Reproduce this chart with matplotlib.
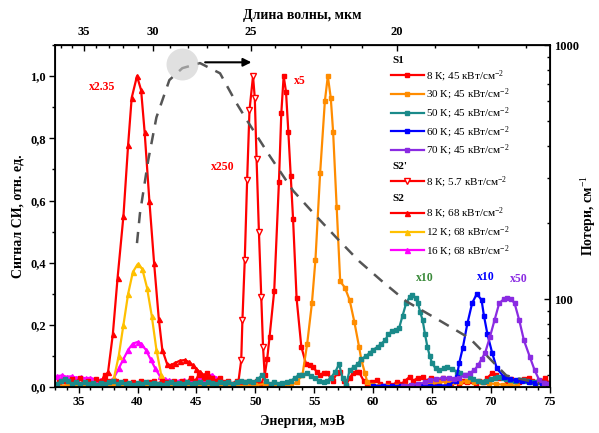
import numpy as np
import matplotlib
matplotlib.use("Agg")
import matplotlib.pyplot as plt
from matplotlib.lines import Line2D
from matplotlib.ticker import MultipleLocator, FixedLocator, FuncFormatter, NullFormatter, LogLocator

plt.rcParams['font.family'] = ['Liberation Serif', 'DejaVu Serif']
plt.rcParams['mathtext.fontset'] = 'custom'
plt.rcParams['mathtext.rm'] = 'Liberation Serif'
plt.rcParams['mathtext.it'] = 'Liberation Serif:italic'
plt.rcParams['mathtext.bf'] = 'Liberation Serif:bold'

# ---- S1, 45 kW/cm2 ----
s1_8k_e = [33.3, 33.7, 34.0, 34.4, 34.8, 35.1, 35.5, 35.8, 36.2, 36.5, 36.9, 37.2, 37.5, 37.9, 38.2, 38.6,
           38.9, 39.3, 39.6, 40.0, 40.3, 40.7, 41.0, 41.4, 41.7, 42.1, 42.4, 42.8, 43.1, 43.5, 43.8, 44.2,
           44.5, 44.9, 45.2, 45.6, 45.9, 46.3, 46.6, 47.0, 47.3, 47.7, 48.0, 48.4, 48.7, 49.1, 49.4, 49.8,
           50.1, 50.5, 50.8, 51.0, 51.2, 51.6, 52.0, 52.2, 52.4, 52.6, 52.8, 53.0, 53.2, 53.5, 53.9, 54.3,
           54.6, 54.9, 55.2, 55.5, 55.8, 56.1, 56.4, 56.6, 56.9, 57.2, 57.5, 57.7, 58.0, 58.3, 58.6, 58.8,
           59.2, 59.5, 59.9, 60.3, 60.6, 61.0, 61.3, 61.7, 62.0, 62.4, 62.7, 63.1, 63.4, 63.8, 64.2, 64.5,
           64.9, 65.2, 65.6, 65.9, 66.2, 66.6, 66.9, 67.3, 67.6, 68.0, 68.3, 68.7, 69.0, 69.4, 69.7, 70.1,
           70.4, 70.7, 71.0, 71.4, 71.7, 72.1, 72.4, 72.8, 73.2, 73.5, 73.9, 74.3, 74.6, 75.0]
s1_8k_y = [0.015, 0.02, 0.01, 0.025, 0.015, 0.03, 0.01, 0.02, 0.01, 0.025, 0.015, 0.04, 0.02, 0.01, 0.02, 0.01,
           0.02, 0.005, 0.015, 0.01, 0.02, 0.01, 0.015, 0.02, 0.01, 0.02, 0.015, 0.005, 0.02, 0.01, 0.02, 0.015,
           0.03, 0.02, 0.04, 0.03, 0.045, 0.03, 0.02, 0.03, 0.015, 0.02, 0.01, 0.02, 0.01, 0.015, 0.005, 0.01,
           0.02, 0.01, 0.04, 0.09, 0.16, 0.31, 0.66, 0.88, 1.0, 0.95, 0.82, 0.68, 0.54, 0.285, 0.13, 0.074,
           0.07, 0.064, 0.05, 0.04, 0.045, 0.044, 0.03, 0.02, 0.045, 0.05, 0.02, 0.005, 0.03, 0.045, 0.05, 0.048,
           0.02, 0.01, 0.015, 0.022, 0.01, 0.005, 0.012, 0.008, 0.016, 0.01, 0.02, 0.033, 0.02, 0.03, 0.033, 0.02,
           0.03, 0.015, 0.02, 0.03, 0.022, 0.012, 0.02, 0.01, 0.02, 0.015, 0.02, 0.01, 0.02, 0.015, 0.03, 0.045,
           0.04, 0.03, 0.033, 0.02, 0.025, 0.02, 0.015, 0.025, 0.03, 0.02, 0.015, 0.02, 0.03, 0.01]

s1_30k_e = [33.2, 34.0, 34.8, 35.6, 36.4, 37.2, 38.0, 38.8, 39.6, 40.4, 41.2, 42.0, 42.8, 43.6, 44.4, 45.2,
            46.0, 46.8, 47.6, 48.4, 49.2, 50.0, 50.8, 51.6, 52.4, 53.0, 53.5, 54.0, 54.4, 54.8, 55.1, 55.5,
            55.9, 56.15, 56.4, 56.6, 56.9, 57.2, 57.6, 58.0, 58.4, 58.8, 59.0, 59.3, 59.5, 59.9, 60.5, 61.2,
            62.0, 62.8, 63.6, 64.4, 65.0, 65.6, 66.2, 66.8, 67.4, 68.0, 68.6, 69.2, 69.8, 70.4, 71.0, 71.6, 72.2]
s1_30k_y = [0.005, 0.004, 0.006, 0.003, 0.005, 0.004, 0.006, 0.003, 0.004, 0.006, 0.003, 0.005, 0.004, 0.003, 0.005, 0.004,
            0.006, 0.004, 0.005, 0.003, 0.004, 0.006, 0.01, 0.012, 0.008, 0.006, 0.015, 0.04, 0.14, 0.27, 0.41, 0.69,
            0.92, 1.0, 0.93, 0.82, 0.58, 0.34, 0.32, 0.28, 0.21, 0.13, 0.087, 0.045, 0.016, 0.006, 0.004, 0.003,
            0.004, 0.003, 0.005, 0.008, 0.012, 0.015, 0.018, 0.015, 0.016, 0.02, 0.018, 0.015, 0.012, 0.01, 0.008, 0.006, 0.005]

s1_50k_e = [33.2, 33.5, 33.8, 34.1, 34.4, 34.8, 35.1, 35.5, 35.8, 36.2, 36.5, 36.9, 37.2, 37.6, 37.9, 38.3,
            38.6, 39.0, 39.3, 39.7, 40.0, 40.4, 40.7, 41.1, 41.4, 41.8, 42.1, 42.5, 42.8, 43.2, 43.5, 43.9,
            44.2, 44.6, 44.9, 45.3, 45.6, 46.0, 46.3, 46.7, 47.0, 47.4, 47.7, 48.1, 48.4, 48.8, 49.1, 49.5,
            49.8, 50.2, 50.6, 50.9, 51.3, 51.6, 52.0, 52.3, 52.7, 53.0, 53.4, 53.7, 54.0, 54.4, 54.7, 55.1,
            55.4, 55.8, 56.1, 56.4, 56.8, 57.1, 57.4, 57.7, 58.0, 58.4, 58.7, 59.0, 59.4, 59.7, 60.0, 60.4,
            60.7, 61.0, 61.3, 61.6, 61.9, 62.2, 62.5, 62.8, 63.1, 63.3, 63.6, 63.8, 64.0, 64.2, 64.4, 64.6,
            64.8, 65.0, 65.3, 65.6, 66.0, 66.3, 66.7, 67.1, 67.4, 67.8, 68.2, 68.5, 68.9, 69.3, 69.6, 70.0,
            70.3, 70.6, 71.0, 71.3, 71.6, 72.0, 72.4, 72.7, 73.1, 73.4, 73.8, 74.1, 74.5, 74.9]
s1_50k_y = [0.01, 0.02, 0.025, 0.02, 0.01, 0.015, 0.01, 0.015, 0.01, 0.012, 0.008, 0.012, 0.01, 0.015, 0.02, 0.01,
            0.015, 0.01, 0.012, 0.008, 0.012, 0.01, 0.015, 0.01, 0.012, 0.01, 0.008, 0.012, 0.015, 0.01, 0.012, 0.01,
            0.015, 0.01, 0.012, 0.015, 0.01, 0.015, 0.012, 0.01, 0.015, 0.012, 0.015, 0.01, 0.015, 0.02, 0.015, 0.02,
            0.015, 0.025, 0.04, 0.02, 0.01, 0.015, 0.01, 0.012, 0.015, 0.02, 0.03, 0.04, 0.04, 0.045, 0.035, 0.03,
            0.02, 0.015, 0.02, 0.03, 0.05, 0.074, 0.03, 0.006, 0.055, 0.064, 0.075, 0.09, 0.1, 0.11, 0.12, 0.13,
            0.14, 0.15, 0.17, 0.18, 0.185, 0.19, 0.23, 0.27, 0.29, 0.296, 0.285, 0.27, 0.24, 0.215, 0.17, 0.13,
            0.1, 0.077, 0.06, 0.055, 0.06, 0.064, 0.058, 0.05, 0.045, 0.04, 0.033, 0.025, 0.02, 0.016, 0.02, 0.025,
            0.03, 0.033, 0.028, 0.025, 0.022, 0.02, 0.022, 0.022, 0.02, 0.018, 0.016, 0.015, 0.012, 0.01]

s1_60k_e = [60.0, 60.8, 61.6, 62.4, 63.2, 64.0, 64.8, 65.6, 66.4, 67.0, 67.1, 67.3, 67.6, 68.0, 68.4, 68.8,
            69.2, 69.4, 69.7, 70.1, 70.5, 71.1, 71.6, 72.1, 72.6, 73.2, 73.7, 74.3, 74.8]
s1_60k_y = [0.004, 0.005, 0.003, 0.005, 0.004, 0.006, 0.004, 0.005, 0.006, 0.02, 0.033, 0.077, 0.125, 0.205, 0.27, 0.30,
            0.28, 0.23, 0.17, 0.11, 0.06, 0.033, 0.025, 0.022, 0.02, 0.016, 0.014, 0.012, 0.01]

s1_70k_e = [62.5, 63.2, 63.8, 64.4, 64.8, 65.3, 65.9, 66.4, 66.9, 67.3, 67.8, 68.2, 68.6, 68.9, 69.2, 69.5,
            69.9, 70.3, 70.7, 71.1, 71.4, 71.7, 72.0, 72.4, 72.8, 73.3, 73.7, 74.1, 74.5, 74.9]
s1_70k_y = [0.004, 0.006, 0.01, 0.015, 0.022, 0.025, 0.03, 0.028, 0.025, 0.03, 0.038, 0.045, 0.055, 0.07, 0.09, 0.11,
            0.16, 0.215, 0.27, 0.283, 0.286, 0.283, 0.27, 0.215, 0.15, 0.097, 0.055, 0.022, 0.012, 0.01]

# ---- S2', 5.7 kW/cm2 ----
s2p_8k_e = [48.5, 48.8, 48.9, 49.1, 49.3, 49.5, 49.8, 49.95, 50.1, 50.3, 50.5, 50.65, 50.85]
s2p_8k_y = [0.0, 0.087, 0.215, 0.41, 0.665, 0.89, 1.0, 0.93, 0.735, 0.5, 0.29, 0.13, 0.0]

# ---- S2, 68 kW/cm2 ----
s2_8k_e = [36.8, 37.2, 37.5, 37.9, 38.3, 38.8, 39.2, 39.5, 39.95, 40.3, 40.6, 41.0, 41.4, 41.8, 42.1, 42.5,
           42.8, 43.2, 43.6, 44.0, 44.4, 44.7, 45.0, 45.3, 45.6, 45.9, 46.4]
s2_8k_y = [0.02, 0.03, 0.05, 0.17, 0.35, 0.55, 0.78, 0.93, 1.0, 0.955, 0.82, 0.6, 0.4, 0.22, 0.12, 0.075,
           0.07, 0.078, 0.085, 0.087, 0.08, 0.07, 0.058, 0.048, 0.04, 0.033, 0.022]

s2_12k_e = [33.2, 34.4, 35.6, 36.8, 37.6, 38.0, 38.4, 38.8, 39.2, 39.6, 40.0, 40.4, 40.8, 41.2, 41.6, 42.0,
            42.3, 43.4, 44.6, 45.8, 47.0]
s2_12k_y = [0.005, 0.004, 0.006, 0.004, 0.0, 0.03, 0.1, 0.2, 0.3, 0.37, 0.395, 0.38, 0.32, 0.23, 0.12, 0.04,
            0.0, 0.004, 0.005, 0.004, 0.005]

s2_16k_e = [33.2, 33.6, 34.0, 34.4, 34.8, 35.2, 35.6, 36.0, 36.4, 36.8, 37.2, 37.6, 38.0, 38.4, 38.8, 39.2,
            39.6, 40.0, 40.3, 40.7, 41.1, 41.5, 41.9, 42.3, 42.7, 43.1, 43.5, 43.9, 44.3, 44.7, 45.1, 45.5,
            45.9, 46.3, 46.7, 47.0, 47.3]
s2_16k_y = [0.035, 0.038, 0.033, 0.035, 0.03, 0.032, 0.028, 0.03, 0.025, 0.022, 0.02, 0.018, 0.03, 0.06, 0.09, 0.12,
            0.14, 0.145, 0.14, 0.12, 0.09, 0.06, 0.035, 0.025, 0.022, 0.02, 0.02, 0.022, 0.018, 0.02, 0.025, 0.03,
            0.035, 0.04, 0.03, 0.015, 0.0]

# ---- losses (right axis, cm^-1) ----
loss_e = [39.95, 40.2, 40.9, 41.6, 42.7, 43.8, 45.3, 47.0, 48.4, 49.3, 51.2, 53.2, 55.0, 56.9, 58.8, 60.8,
          62.8, 65.5, 68.2, 71.3, 74.1]
loss_v = [166, 217, 351, 519, 728, 811, 849, 774, 590, 504, 367, 267, 216, 174, 141, 117,
          98, 83, 70, 50, 46.5]

HC = 1239.84  # meV * um


def e2l(e):
    e = np.asarray(e, dtype=float)
    with np.errstate(divide='ignore', invalid='ignore'):
        return HC / e


fig = plt.figure(figsize=(5.99, 4.33), dpi=100)
ax = fig.add_axes([0.092, 0.106, 0.826, 0.79])

S1 = [("8 К; 45 кВт/см$^{-2}$", s1_8k_e, s1_8k_y, "#ff0000"),
      ("30 К; 45 кВт/см$^{-2}$", s1_30k_e, s1_30k_y, "#ff8c00"),
      ("50 К; 45 кВт/см$^{-2}$", s1_50k_e, s1_50k_y, "#1a8a8a"),
      ("60 К; 45 кВт/см$^{-2}$", s1_60k_e, s1_60k_y, "#0000ff"),
      ("70 К; 45 кВт/см$^{-2}$", s1_70k_e, s1_70k_y, "#8a2be2")]
S2 = [("8 К; 68 кВт/см$^{-2}$", s2_8k_e, s2_8k_y, "#ff0000"),
      ("12 К; 68 кВт/см$^{-2}$", s2_12k_e, s2_12k_y, "#ffc000"),
      ("16 К; 68 кВт/см$^{-2}$", s2_16k_e, s2_16k_y, "#ff00ff")]

lw, ms = 1.6, 3.2
h_s2 = []
for lab, xe, ye, c in S2[::-1]:
    ln, = ax.plot(xe, ye, color=c, lw=lw, marker='^', ms=ms + 0.4, label=lab)
    h_s2.insert(0, ln)
h_s2p, = ax.plot(s2p_8k_e, s2p_8k_y, color="#ff0000", lw=lw, marker='v', ms=ms + 1,
                 mfc='white', mec="#ff0000", mew=1, label="8 К; 5.7 кВт/см$^{-2}$")
h_s1 = []
for lab, xe, ye, c in S1:
    ln, = ax.plot(xe, ye, color=c, lw=lw, marker='s', ms=ms, label=lab)
    h_s1.append(ln)

ax.set_xlim(33, 75)
ax.set_ylim(0, 1.1)
ax.xaxis.set_major_locator(MultipleLocator(5))
ax.xaxis.set_minor_locator(MultipleLocator(1))
ax.yaxis.set_major_locator(MultipleLocator(0.2))
ax.yaxis.set_minor_locator(MultipleLocator(0.1))
ax.yaxis.set_major_formatter(FuncFormatter(lambda v, p: f"{v:.1f}".replace('.', ',')))
ax.tick_params(which='both', direction='out', labelsize=9, width=1, pad=2.5)
ax.tick_params(which='major', length=4)
ax.tick_params(which='minor', length=2.5)
ax.tick_params(axis='x', which='both', top=False)
for t in ax.get_xticklabels() + ax.get_yticklabels():
    t.set_fontweight('bold')
for s in ax.spines.values():
    s.set_linewidth(1.3)
ax.set_xlabel("Энергия, мэВ", fontsize=10, fontweight='bold', labelpad=5)
ax.set_ylabel("Сигнал СИ, отн. ед.", fontsize=10, fontweight='bold', labelpad=4)

# top axis: wavelength
secx = ax.secondary_xaxis('top', functions=(e2l, e2l))
secx.set_xticks([35, 30, 25, 20])
secx.xaxis.set_minor_locator(FixedLocator(list(range(17, 38))))
secx.tick_params(which='both', direction='in', labelsize=9, width=1, pad=5)
secx.tick_params(which='major', length=4)
secx.tick_params(which='minor', length=2.5)
for t in secx.get_xticklabels():
    t.set_fontweight('bold')
secx.set_xlabel("Длина волны, мкм", fontsize=10, fontweight='bold', labelpad=5)

# right axis: losses
ax2 = ax.twinx()
ax2.set_yscale('log')
ax2.set_ylim(45, 1000)
ax2.plot(loss_e, loss_v, color='#555555', lw=1.8, ls=(0, (4.5, 3.5)))
ax2.plot([43.8], [840], 'o', ms=23, color='#cccccc', alpha=0.6, mec='none')
ax2.annotate('', xy=(49.9, 855), xytext=(45.5, 855),
             arrowprops=dict(arrowstyle='-|>', color='k', lw=1.5, mutation_scale=12))
ax2.yaxis.set_major_locator(LogLocator(base=10))
ax2.yaxis.set_minor_locator(LogLocator(base=10, subs=np.arange(2, 10)))
ax2.yaxis.set_major_formatter(FuncFormatter(lambda v, p: f"{v:g}"))
ax2.yaxis.set_minor_formatter(NullFormatter())
ax2.tick_params(which='both', direction='in', labelsize=9, width=1, pad=3)
ax2.tick_params(which='major', length=4)
ax2.tick_params(which='minor', length=2.5)
for t in ax2.get_yticklabels():
    t.set_fontweight('bold')
ax2.set_ylabel("Потери, см$^{-1}$", fontsize=10, fontweight='bold', labelpad=0)

# scale-factor labels
fs_ann = 8.5
ax.text(37.0, 0.965, "x2.35", color="#ff0000", fontsize=fs_ann, fontweight='bold', ha='center', va='center')
ax.text(47.2, 0.707, "x250", color="#ff0000", fontsize=fs_ann, fontweight='bold', ha='center', va='center')
ax.text(53.8, 0.984, "x5", color="#ff0000", fontsize=fs_ann, fontweight='bold', ha='center', va='center')
ax.text(64.4, 0.35, "x10", color="#3a8a3a", fontsize=fs_ann, fontweight='bold', ha='center', va='center')
ax.text(69.6, 0.355, "x10", color="#0000ff", fontsize=fs_ann, fontweight='bold', ha='center', va='center')
ax.text(72.4, 0.347, "x50", color="#8a2be2", fontsize=fs_ann, fontweight='bold', ha='center', va='center')

# legend with group headers
headers = ["S1", "S2'", "S2"]
blank = [Line2D([], [], ls='none') for _ in headers]
handles = [blank[0]] + h_s1 + [blank[1], h_s2p, blank[2]] + h_s2
labels = [headers[0]] + [h.get_label() for h in h_s1] + [headers[1], h_s2p.get_label(), headers[2]] + \
         [h.get_label() for h in h_s2]
leg = ax2.legend(handles, labels, loc='upper left', bbox_to_anchor=(0.678, 0.97), frameon=False,
                 fontsize=8, handlelength=3.0, handletextpad=0.2, labelspacing=0.28,
                 borderpad=0, borderaxespad=0)
for col in leg._legend_handle_box.get_children():
    for row in col.get_children():
        hb, tb = row.get_children()
        txt = tb._text
        if txt.get_text() in headers:
            hb.set_width(0)
            txt.set_fontweight('bold')

fig.savefig("out.png", dpi=100)
